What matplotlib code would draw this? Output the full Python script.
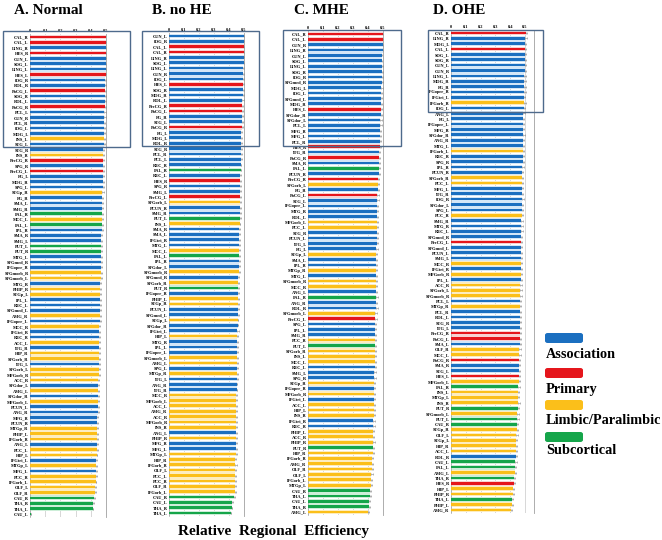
import matplotlib
matplotlib.use("Agg")
import matplotlib.pyplot as plt
import matplotlib.patches as mpatches
from matplotlib.transforms import blended_transform_factory

plt.rcParams['font.family'] = 'Liberation Serif'
plt.rcParams['font.weight'] = 'bold'

# ---- region categories ----
association = ['SFGdor', 'MFG', 'IFGoper', 'IFGtri', 'ROL', 'SMA', 'SFGmed', 'REC',
               'CUN', 'LING', 'SOG', 'MOG', 'IOG', 'FG', 'SPG', 'IPL', 'SMG', 'ANG',
               'PCUN', 'PCL', 'STG', 'MTG', 'ITG']
primary = ['PreCG', 'PoCG', 'CAL', 'HES']
limbic = ['SFGorb', 'MFGorb', 'IFGorb', 'OLF', 'SFGmorb', 'INS', 'ACC', 'MCC', 'PCC',
          'HIP', 'PHIP', 'AMG', 'STGp', 'MTGp']
subcortical = ['CAU', 'PUT', 'PAL', 'THA']

cat_names = ['Association', 'Primary', 'Limbic/Paralimbic', 'Subcortical']
cat_colors = ['#1b6fc0', '#e5161c', '#fbbf1a', '#15a54a']
cat_light = ['#d3e6f7', '#f8d2d2', '#fdedbf', '#cdeed8']

# ---- A. Normal ----
labels_a = ['CAL_R', 'CAL_L', 'LING_R', 'HES_R', 'CUN_L', 'SOG_L', 'LING_L', 'HES_L', 'IOG_R', 'ROL_R',
            'PoCG_L', 'SOG_R', 'ROL_L', 'PoCG_R', 'PCL_L', 'CUN_R', 'PCL_R', 'IOG_L', 'MOG_L', 'INS_L',
            'STG_L', 'STG_R', 'INS_R', 'PreCG_R', 'SPG_R', 'PreCG_L', 'FG_L', 'MOG_R', 'SPG_L', 'STGp_R',
            'FG_R', 'SMA_L', 'SMG_R', 'PAL_R', 'MCC_L', 'PAL_L', 'IPL_R', 'SMA_R', 'SMG_L', 'PUT_L',
            'PUT_R', 'MTG_L', 'SFGmed_R', 'IFGoper_R', 'SFGmorb_R', 'SFGmorb_L', 'MTG_R', 'PHIP_R', 'STGp_L', 'IPL_L',
            'REC_L', 'SFGmed_L', 'AMG_R', 'IFGoper_L', 'MCC_R', 'IFGtri_R', 'REC_R', 'ACC_L', 'ITG_R', 'HIP_R',
            'SFGorb_R', 'ITG_L', 'SFGorb_L', 'MFGorb_R', 'ACC_R', 'SFGdor_L', 'AMG_L', 'SFGdor_R', 'MFGorb_L', 'PCUN_L',
            'ANG_R', 'MFG_R', 'PCUN_R', 'MTGp_R', 'PHIP_L', 'IFGorb_R', 'ANG_L', 'PCC_L', 'HIP_L', 'IFGtri_L',
            'MTGp_L', 'MFG_L', 'PCC_R', 'IFGorb_L', 'OLF_L', 'OLF_R', 'CAU_R', 'THA_R', 'THA_L', 'CAU_L']
values_a = [0.504, 0.503, 0.502, 0.501, 0.500, 0.499, 0.498, 0.497, 0.496, 0.495,
            0.494, 0.493, 0.492, 0.491, 0.490, 0.489, 0.488, 0.487, 0.486, 0.485,
            0.484, 0.483, 0.482, 0.481, 0.480, 0.479, 0.478, 0.477, 0.477, 0.476,
            0.475, 0.474, 0.474, 0.473, 0.472, 0.471, 0.471, 0.470, 0.469, 0.468,
            0.468, 0.467, 0.466, 0.465, 0.465, 0.464, 0.463, 0.462, 0.462, 0.461,
            0.460, 0.459, 0.459, 0.458, 0.457, 0.456, 0.456, 0.455, 0.455, 0.454,
            0.453, 0.452, 0.452, 0.451, 0.450, 0.449, 0.449, 0.448, 0.447, 0.446,
            0.445, 0.444, 0.443, 0.443, 0.442, 0.441, 0.440, 0.439, 0.438, 0.437,
            0.436, 0.434, 0.432, 0.431, 0.430, 0.428, 0.421, 0.414, 0.412, 0.006]
err_a = [0.008, 0.008, 0.009, 0.008, 0.007, 0.007, 0.008, 0.007, 0.007, 0.008,
         0.007, 0.007, 0.008, 0.008, 0.007, 0.008, 0.007, 0.007, 0.008, 0.010,
         0.007, 0.007, 0.008, 0.007, 0.007, 0.007, 0.008, 0.007, 0.007, 0.008,
         0.006, 0.007, 0.007, 0.006, 0.007, 0.006, 0.007, 0.006, 0.007, 0.006,
         0.006, 0.007, 0.006, 0.006, 0.007, 0.007, 0.006, 0.006, 0.007, 0.006,
         0.006, 0.006, 0.007, 0.006, 0.006, 0.006, 0.006, 0.007, 0.006, 0.006,
         0.007, 0.006, 0.008, 0.007, 0.007, 0.006, 0.006, 0.006, 0.007, 0.006,
         0.006, 0.006, 0.006, 0.006, 0.006, 0.006, 0.006, 0.006, 0.006, 0.006,
         0.006, 0.006, 0.006, 0.006, 0.006, 0.006, 0.006, 0.005, 0.005, 0.002]

# ---- B. no HE ----
labels_b = ['CUN_L', 'IOG_R', 'CAL_L', 'CAL_R', 'LING_R', 'SOG_L', 'LING_L', 'CUN_R', 'IOG_L', 'HES_L',
            'SOG_R', 'MOG_R', 'ROL_L', 'PreCG_R', 'PoCG_L', 'FG_R', 'STG_L', 'PoCG_R', 'FG_L', 'MOG_L',
            'ROL_R', 'STG_R', 'PCL_R', 'PCL_L', 'REC_R', 'PAL_R', 'REC_L', 'HES_R', 'SPG_R', 'SMG_L',
            'PreCG_L', 'SFGorb_L', 'PCUN_R', 'SMG_R', 'PUT_L', 'INS_L', 'SMA_R', 'SMA_L', 'IFGtri_R', 'MTG_L',
            'MCC_L', 'PAL_L', 'IPL_R', 'SFGdor_L', 'SFGmorb_R', 'SFGmed_R', 'SFGorb_R', 'PUT_R', 'IFGoper_R', 'PHIP_L',
            'STGp_R', 'PCUN_L', 'SFGmed_L', 'STGp_L', 'SFGdor_R', 'IFGtri_L', 'HIP_L', 'MTG_R', 'IPL_L', 'IFGoper_L',
            'SFGmorb_L', 'AMG_L', 'SPG_L', 'MTGp_R', 'ITG_L', 'ANG_R', 'ITG_R', 'MCC_R', 'MFGorb_L', 'ACC_L',
            'AMG_R', 'ACC_R', 'MFGorb_R', 'INS_R', 'ANG_L', 'PHIP_R', 'MFG_R', 'MFG_L', 'MTGp_L', 'HIP_R',
            'IFGorb_R', 'OLF_L', 'PCC_L', 'PCC_R', 'OLF_R', 'IFGorb_L', 'CAU_R', 'CAU_L', 'THA_R', 'THA_L']
values_b = [0.505, 0.503, 0.502, 0.501, 0.500, 0.499, 0.498, 0.497, 0.496, 0.494,
            0.493, 0.492, 0.491, 0.490, 0.489, 0.488, 0.487, 0.486, 0.485, 0.484,
            0.483, 0.482, 0.481, 0.480, 0.479, 0.479, 0.478, 0.477, 0.477, 0.476,
            0.475, 0.475, 0.474, 0.473, 0.473, 0.472, 0.471, 0.470, 0.470, 0.469,
            0.468, 0.468, 0.467, 0.466, 0.466, 0.465, 0.464, 0.463, 0.463, 0.462,
            0.461, 0.461, 0.460, 0.459, 0.459, 0.458, 0.457, 0.457, 0.456, 0.455,
            0.455, 0.454, 0.454, 0.453, 0.453, 0.452, 0.452, 0.451, 0.451, 0.450,
            0.450, 0.449, 0.449, 0.448, 0.448, 0.447, 0.447, 0.446, 0.446, 0.445,
            0.445, 0.444, 0.444, 0.443, 0.443, 0.442, 0.435, 0.424, 0.419, 0.413]
err_b = [0.006, 0.006, 0.007, 0.007, 0.006, 0.007, 0.006, 0.006, 0.006, 0.007,
         0.008, 0.008, 0.009, 0.007, 0.007, 0.006, 0.006, 0.007, 0.006, 0.007,
         0.008, 0.007, 0.006, 0.006, 0.006, 0.006, 0.006, 0.007, 0.007, 0.007,
         0.006, 0.006, 0.006, 0.006, 0.006, 0.006, 0.006, 0.006, 0.006, 0.007,
         0.007, 0.006, 0.006, 0.006, 0.006, 0.006, 0.006, 0.006, 0.006, 0.006,
         0.006, 0.006, 0.006, 0.006, 0.006, 0.010, 0.006, 0.006, 0.006, 0.006,
         0.008, 0.006, 0.006, 0.006, 0.006, 0.006, 0.006, 0.006, 0.006, 0.006,
         0.006, 0.006, 0.006, 0.006, 0.006, 0.007, 0.006, 0.006, 0.006, 0.006,
         0.007, 0.006, 0.005, 0.005, 0.005, 0.005, 0.005, 0.005, 0.005, 0.005]

# ---- C. MHE ----
labels_c = ['CAL_R', 'CAL_L', 'CUN_R', 'LING_R', 'CUN_L', 'SOG_L', 'LING_L', 'SOG_R', 'IOG_R', 'SFGmed_R',
            'MOG_L', 'IOG_L', 'SFGmed_L', 'MOG_R', 'HES_L', 'SFGdor_R', 'SFGdor_L', 'PCL_L', 'MFG_R', 'MFG_L',
            'PCL_R', 'HES_R', 'ITG_R', 'PoCG_R', 'SMA_R', 'PAL_L', 'PCUN_R', 'PreCG_R', 'SFGorb_L', 'FG_R',
            'PoCG_L', 'STG_L', 'IFGoper_L', 'MTG_R', 'ROL_L', 'MFGorb_L', 'PCC_L', 'STG_R', 'PCUN_L', 'ITG_L',
            'FG_L', 'STGp_L', 'SMA_L', 'IPL_R', 'MTGp_R', 'MTG_L', 'SFGmorb_R', 'MCC_R', 'ANG_L', 'PAL_R',
            'ANG_R', 'ROL_R', 'SFGmorb_L', 'PreCG_L', 'SPG_L', 'IPL_L', 'SMG_R', 'PCC_R', 'PUT_L', 'SFGorb_R',
            'INS_L', 'MCC_L', 'REC_L', 'SMG_L', 'SPG_R', 'STGp_R', 'IFGoper_R', 'MFGorb_R', 'IFGtri_L', 'ACC_L',
            'HIP_L', 'INS_R', 'IFGtri_R', 'REC_R', 'PHIP_L', 'ACC_R', 'PHIP_R', 'PUT_R', 'HIP_R', 'IFGorb_R',
            'AMG_R', 'OLF_R', 'OLF_L', 'IFGorb_L', 'MTGp_L', 'CAU_R', 'THA_L', 'CAU_L', 'THA_R', 'AMG_L']
values_c = [0.500, 0.499, 0.498, 0.497, 0.496, 0.495, 0.494, 0.493, 0.492, 0.490,
            0.489, 0.488, 0.487, 0.486, 0.485, 0.484, 0.483, 0.482, 0.481, 0.480,
            0.479, 0.478, 0.476, 0.475, 0.474, 0.473, 0.470, 0.467, 0.465, 0.464,
            0.463, 0.462, 0.461, 0.461, 0.460, 0.459, 0.459, 0.458, 0.457, 0.457,
            0.456, 0.455, 0.455, 0.454, 0.453, 0.453, 0.452, 0.452, 0.451, 0.451,
            0.450, 0.450, 0.449, 0.449, 0.448, 0.448, 0.447, 0.447, 0.446, 0.446,
            0.445, 0.444, 0.444, 0.443, 0.442, 0.441, 0.441, 0.440, 0.439, 0.439,
            0.438, 0.437, 0.436, 0.436, 0.435, 0.434, 0.434, 0.433, 0.430, 0.428,
            0.426, 0.424, 0.422, 0.420, 0.418, 0.416, 0.411, 0.407, 0.405, 0.400]
err_c = [0.008, 0.009, 0.012, 0.045, 0.009, 0.009, 0.008, 0.009, 0.010, 0.008,
         0.008, 0.008, 0.008, 0.008, 0.008, 0.008, 0.008, 0.008, 0.008, 0.008,
         0.008, 0.008, 0.007, 0.008, 0.008, 0.008, 0.007, 0.008, 0.008, 0.008,
         0.010, 0.008, 0.008, 0.008, 0.008, 0.008, 0.008, 0.007, 0.007, 0.008,
         0.008, 0.007, 0.008, 0.008, 0.007, 0.007, 0.008, 0.008, 0.008, 0.018,
         0.012, 0.014, 0.008, 0.008, 0.008, 0.008, 0.008, 0.008, 0.008, 0.008,
         0.007, 0.007, 0.008, 0.008, 0.008, 0.008, 0.008, 0.007, 0.008, 0.009,
         0.008, 0.008, 0.008, 0.008, 0.008, 0.009, 0.010, 0.008, 0.008, 0.007,
         0.008, 0.008, 0.008, 0.008, 0.008, 0.006, 0.006, 0.006, 0.006, 0.006]

# ---- D. OHE ----
labels_d = ['CAL_R', 'LING_R', 'MOG_L', 'CAL_L', 'SOG_L', 'SOG_R', 'CUN_L', 'CUN_R', 'LING_L', 'MOG_R',
            'FG_R', 'IFGoper_R', 'IFGtri_L', 'IFGorb_R', 'IOG_L', 'ANG_L', 'FG_L', 'IFGoper_L', 'MFG_R', 'SFGdor_R',
            'ANG_R', 'MTG_L', 'IFGorb_L', 'REC_R', 'SPG_R', 'IPL_R', 'PCUN_R', 'SFGorb_R', 'PCC_L', 'MFG_L',
            'ITG_R', 'IOG_R', 'SFGdor_L', 'SPG_L', 'PCC_R', 'SMG_R', 'MTG_R', 'REC_L', 'SFGmed_R', 'PreCG_L',
            'SFGmed_L', 'PCUN_L', 'SMG_L', 'MCC_R', 'IFGtri_R', 'MFGorb_R', 'IPL_L', 'ACC_R', 'SFGorb_L', 'SFGmorb_R',
            'PCL_L', 'MTGp_R', 'PCL_R', 'ROL_L', 'STG_R', 'ITG_L', 'PreCG_R', 'PoCG_L', 'SMA_L', 'OLF_R',
            'MCC_L', 'PoCG_R', 'SMA_R', 'STG_L', 'HES_L', 'MFGorb_L', 'PAL_R', 'INS_L', 'MTGp_L', 'INS_R',
            'PUT_R', 'SFGmorb_L', 'PUT_L', 'CAU_R', 'STGp_R', 'OLF_L', 'STGp_L', 'HIP_R', 'ACC_L', 'ROL_R',
            'CAU_L', 'PAL_L', 'AMG_L', 'THA_R', 'HES_R', 'HIP_L', 'PHIP_R', 'THA_L', 'PHIP_L', 'AMG_R']
values_d = [0.505, 0.503, 0.502, 0.501, 0.500, 0.499, 0.498, 0.497, 0.496, 0.495,
            0.494, 0.493, 0.492, 0.491, 0.490, 0.489, 0.488, 0.488, 0.487, 0.486,
            0.485, 0.485, 0.484, 0.483, 0.483, 0.482, 0.481, 0.481, 0.480, 0.479,
            0.479, 0.478, 0.478, 0.477, 0.477, 0.476, 0.475, 0.475, 0.474, 0.474,
            0.473, 0.473, 0.472, 0.471, 0.471, 0.470, 0.470, 0.469, 0.469, 0.468,
            0.467, 0.467, 0.466, 0.466, 0.465, 0.465, 0.464, 0.463, 0.463, 0.462,
            0.461, 0.460, 0.459, 0.458, 0.457, 0.456, 0.455, 0.454, 0.453, 0.452,
            0.450, 0.449, 0.447, 0.445, 0.443, 0.442, 0.441, 0.440, 0.438, 0.437,
            0.435, 0.433, 0.431, 0.428, 0.425, 0.420, 0.418, 0.415, 0.413, 0.408]
err_d = [0.008, 0.009, 0.008, 0.009, 0.009, 0.008, 0.012, 0.012, 0.008, 0.009,
         0.015, 0.012, 0.010, 0.014, 0.008, 0.008, 0.008, 0.008, 0.008, 0.012,
         0.008, 0.008, 0.008, 0.008, 0.008, 0.008, 0.008, 0.008, 0.008, 0.008,
         0.009, 0.012, 0.008, 0.012, 0.008, 0.008, 0.008, 0.008, 0.008, 0.008,
         0.008, 0.008, 0.008, 0.008, 0.008, 0.008, 0.008, 0.008, 0.012, 0.012,
         0.008, 0.008, 0.008, 0.008, 0.008, 0.008, 0.008, 0.008, 0.008, 0.010,
         0.012, 0.008, 0.008, 0.008, 0.008, 0.008, 0.008, 0.008, 0.008, 0.014,
         0.008, 0.008, 0.012, 0.008, 0.008, 0.008, 0.008, 0.008, 0.008, 0.008,
         0.008, 0.008, 0.006, 0.006, 0.006, 0.006, 0.006, 0.006, 0.006, 0.006]

panel_titles = ['A. Normal', 'B. no HE', 'C. MHE', 'D. OHE']
ticks = [0, 0.1, 0.2, 0.3, 0.4, 0.5]
tick_labels = ['0', '0.1', '0.2', '0.3', '0.4', '0.5']


def category(label):
    base = label.rsplit('_', 1)[0]
    for i, group in enumerate([association, primary, limbic, subcortical]):
        if base in group:
            return i
    return 0


fig = plt.figure(figsize=(6.62, 5.4), dpi=100)
W, H = 662.0, 540.0

# axes placement in pixels: (left, right, top, bottom, xmax)
layout = [(30, 106, 34.3, 516.6, 0.5),
          (169, 243.7, 33.3, 515.7, 0.5),
          (308, 383, 31.3, 514.7, 0.5),
          (451, 533.9, 30.3, 512.7, 0.56)]
# highlight boxes (axes-fraction x, row y)
boxes = [(-0.355, 1.316, -1.1, 20.5),
         (-0.36, 1.205, -0.93, 20.5),
         (-0.333, 1.24, -0.75, 20.9),
         (-0.277, 1.11, -0.56, 14.7)]
title_x = [14, 152, 294, 433]

panels = [(labels_a, values_a, err_a), (labels_b, values_b, err_b),
          (labels_c, values_c, err_c), (labels_d, values_d, err_d)]

for k, (labels, values, err) in enumerate(panels):
    l, r, t, b, xmax = layout[k]
    ax = fig.add_axes([l / W, 1 - b / H, (r - l) / W, (b - t) / H])
    n = len(labels)
    y = list(range(n))
    cats = [category(s) for s in labels]
    ax.barh(y, values, height=0.9, color=[cat_light[c] for c in cats], zorder=2)
    ax.barh(y, values, height=0.5, color=[cat_colors[c] for c in cats], zorder=3)
    ax.errorbar(values, y, xerr=[[0] * n, err], fmt='none', ecolor='#8a8a8a',
                elinewidth=0.4, capsize=0.7, capthick=0.4, zorder=4)
    ax.set_xlim(0, xmax)
    ax.set_ylim(n - 0.5, -0.5)
    ax.set_yticks(y)
    ax.set_yticklabels(labels, fontsize=3.2)
    ax.set_xticks(ticks)
    ax.set_xticklabels(tick_labels, fontsize=3.2)
    ax.xaxis.tick_top()
    ax.tick_params(axis='both', length=0, pad=1)
    ax.grid(axis='x', color='#c8c8c8', linewidth=0.5, zorder=0)
    for side in ['top', 'bottom']:
        ax.spines[side].set_visible(False)
    ax.spines['left'].set_color('#a0a0a0')
    ax.spines['left'].set_linewidth(0.5)
    ax.spines['right'].set_color('#a0a0a0')
    ax.spines['right'].set_linewidth(0.6)

    bx0, bx1, by0, by1 = boxes[k]
    tr = blended_transform_factory(ax.transAxes, ax.transData)
    ax.add_patch(mpatches.Rectangle((bx0, by0), bx1 - bx0, by1 - by0, transform=tr,
                                    fill=False, edgecolor='#4e6a8c', linewidth=1.0,
                                    clip_on=False, zorder=6))

    fig.text(title_x[k] / W, 1 - 11 / H, panel_titles[k], fontsize=11,
             fontweight='bold', ha='left', va='center')

fig.text(178 / W, 1 - 531 / H, 'Relative  Regional  Efficiency', fontsize=11,
         fontweight='bold', ha='left', va='center')

# legend
leg_patch_y = [338, 373, 405, 437]
leg_text_y = [355, 389, 420, 451]
for i in range(4):
    fig.patches.append(mpatches.FancyBboxPatch(
        (545 / W, 1 - (leg_patch_y[i] + 5) / H), 38 / W, 10 / H,
        boxstyle='round,pad=0,rounding_size=0.004', transform=fig.transFigure,
        facecolor=cat_colors[i], edgecolor='none'))
    fig.text(546 / W, 1 - leg_text_y[i] / H, cat_names[i], fontsize=10.3,
             fontweight='bold', ha='left', va='center')

fig.savefig('out.png', dpi=100)
